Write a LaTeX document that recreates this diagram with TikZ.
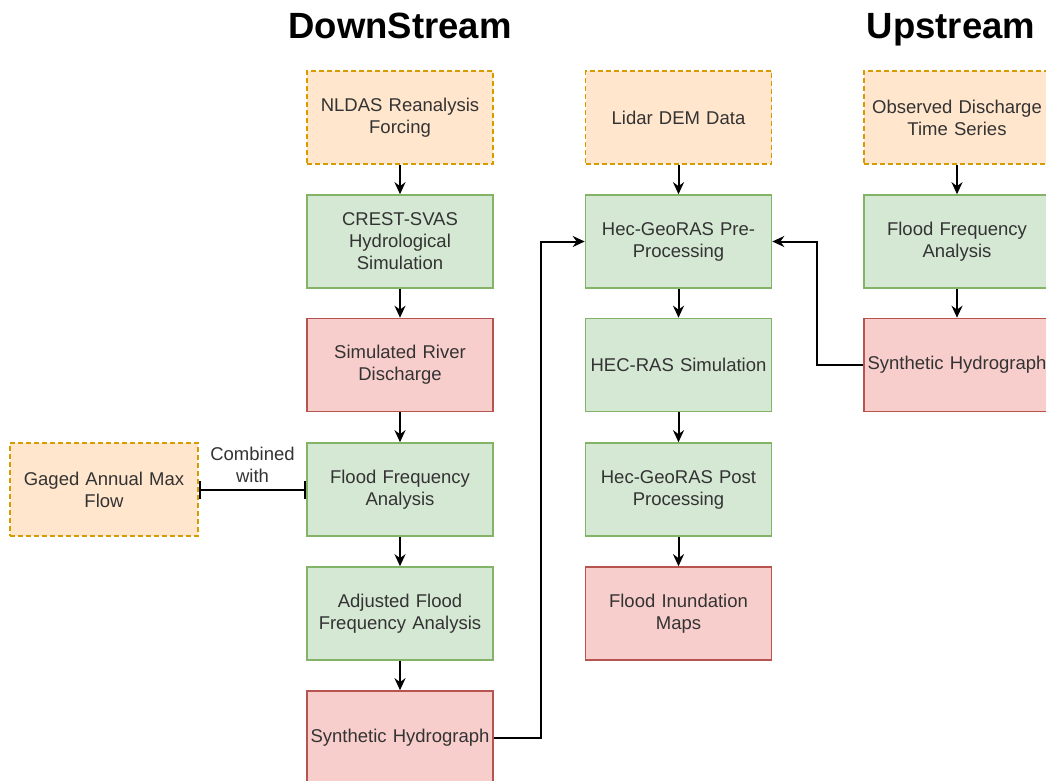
\documentclass[tikz,border=0pt]{standalone}
\usepackage{fontspec}
\setmainfont{Liberation Sans}
\usetikzlibrary{arrows, arrows.meta, positioning, calc}

\definecolor{inputfill}{HTML}{FFE6CC}
\definecolor{inputline}{HTML}{D79B00}
\definecolor{procfill}{HTML}{D5E8D4}
\definecolor{procline}{HTML}{82B366}
\definecolor{resfill}{HTML}{F8CECC}
\definecolor{resline}{HTML}{B85450}
\definecolor{textgray}{HTML}{333333}

\tikzset{
  basebox/.style={rectangle, minimum width=186, minimum height=93, line width=1.6pt,
    text width=180, align=center, text=textgray, inner sep=0pt,
    font=\fontsize{18.5}{22}\selectfont},
  inputbox/.style={basebox, draw=inputline, fill=inputfill, dash pattern=on 5pt off 3pt},
  procbox/.style={basebox, draw=procline, fill=procfill},
  resultbox/.style={basebox, draw=resline, fill=resfill},
  title/.style={font=\bfseries\fontsize{36.5}{40}\selectfont, text=black, anchor=base},
  link/.style={line width=2pt, black},
}

\begin{document}
\begin{tikzpicture}[>={Stealth[length=12pt, width=11pt]}, x=1pt, y=-1pt]
      \useasboundingbox (0,0) rectangle (1046,780);

      \node[title] (down) at (400,38) {DownStream};
      \node[title] (up) at (951,38) {Upstream};

      % downstream column
      \node[inputbox] (nldas) at (400,117.5) {NLDAS Reanalysis\\Forcing};
      \node[procbox] (crest) at (400,241.5) {CREST-SVAS\\Hydrological\\Simulation};
      \node[resultbox] (simq) at (400,365) {Simulated River\\Discharge};
      \node[procbox] (ffa) at (400,489.5) {Flood Frequency\\Analysis};
      \node[procbox] (adjffa) at (400,613.5) {Adjusted Flood\\Frequency Analysis};
      \node[resultbox] (synth) at (400,737.5) {Synthetic Hydrograph};
      \node[inputbox, minimum width=188] (gaged) at (104,489.5) {Gaged Annual Max\\Flow};

      % hec-ras column
      \node[inputbox] (lidar) at (678.5,117.5) {Lidar DEM Data};
      \node[procbox] (pre) at (678.5,241.5) {Hec-GeoRAS Pre-\\Processing};
      \node[procbox] (hecras) at (678.5,365) {HEC-RAS Simulation};
      \node[procbox] (post) at (678.5,489.5) {Hec-GeoRAS Post\\Processing};
      \node[resultbox] (inund) at (678.5,613.5) {Flood Inundation\\Maps};

      % upstream column
      \node[inputbox] (obs) at (957,117.5) {Observed Discharge\\Time Series};
      \node[procbox] (ffaup) at (957,241.5) {Flood Frequency\\Analysis};
      \node[resultbox] (synthup) at (957,365) {Synthetic Hydrograph};

      \draw[link, ->] (nldas) -- (crest);
      \draw[link, ->] (crest) -- (simq);
      \draw[link, ->] (simq) -- (ffa);
      \draw[link, ->] (ffa) -- (adjffa);
      \draw[link, ->] (adjffa) -- (synth);
      \draw[link, {Bar[width=18pt, line width=2pt]}-{Bar[width=18pt, line width=2pt]}] (gaged) -- node[above=3pt, align=center, text=textgray, font=\fontsize{18.5}{22}\selectfont] {Combined\\with} (ffa);

      \draw[link, ->] (lidar) -- (pre);
      \draw[link, ->] (pre) -- (hecras);
      \draw[link, ->] (hecras) -- (post);
      \draw[link, ->] (post) -- (inund);

      \draw[link, ->] (obs) -- (ffaup);
      \draw[link, ->] (ffaup) -- (synthup);

      \draw[link, ->] (synth.east) -- ++(47,0) |- (pre.west);
      \draw[link, ->] (synthup.west) -- ++(-46,0) |- (pre.east);
\end{tikzpicture}
\end{document}
